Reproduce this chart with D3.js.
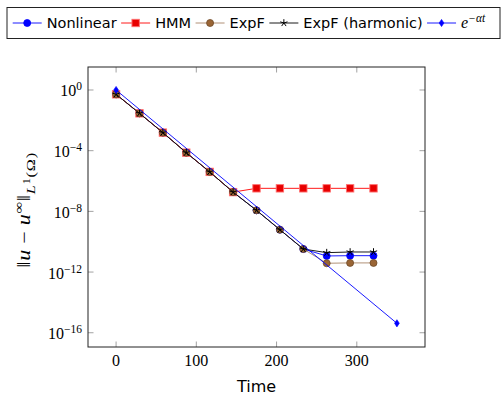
<!DOCTYPE html>
<html>
<head>
<meta charset="utf-8">
<script src="https://cdn.jsdelivr.net/npm/d3@7"></script>
<style>
  body { margin: 0; background: #fff; }
  svg { display: block; }
  .serif { font-family: 'Liberation Serif', 'DejaVu Serif', serif; }
  .sans { font-family: 'DejaVu Sans', sans-serif; }
</style>
</head>
<body>
<svg width="503" height="394"></svg>
<script>
// time samples (i * 350/12) and error norms
const times = [0, 29.17, 58.33, 87.5, 116.67, 145.83, 175, 204.17, 233.33, 262.5, 291.67, 320.83]
const nonlinear = [5.2e-1, 2.9e-2, 1.55e-3, 7.4e-5, 4.0e-6, 1.86e-7, 1.17e-8, 6.2e-10, 3.3e-11, 1.15e-11, 1.2e-11, 1.2e-11]
const hmm = [5.2e-1, 2.9e-2, 1.55e-3, 7.4e-5, 4.0e-6, 1.86e-7, 3.3e-7, 3.3e-7, 3.3e-7, 3.3e-7, 3.3e-7, 3.3e-7]
const expF = [5.2e-1, 2.9e-2, 1.55e-3, 7.4e-5, 4.0e-6, 1.86e-7, 1.17e-8, 6.2e-10, 3.3e-11, 3.8e-12, 4.0e-12, 4.0e-12]
const expFHarmonic = [5.2e-1, 2.9e-2, 1.55e-3, 7.4e-5, 4.0e-6, 1.86e-7, 1.17e-8, 6.2e-10, 3.3e-11, 1.9e-11, 2.1e-11, 2.1e-11]
const expTimes = [0, 350]
const expRef = [1.0, 4.2e-16]

const xTicks = [0, 100, 200, 300]
const yTickExps = [0, -4, -8, -12, -16]

const margin = { top: 67, right: 78, bottom: 47, left: 88 }
const width = 503
const height = 394

const svg = d3.select('svg')

const xScale = d3.scaleLinear()
  .domain([-35, 385])
  .range([margin.left, width - margin.right])

const yScale = d3.scaleLog()
  .domain([Math.pow(10, -16.94), Math.pow(10, 1.516)])
  .range([height - margin.bottom, margin.top])

const x0 = margin.left, x1 = width - margin.right
const y0 = margin.top, y1 = height - margin.bottom
const tickLen = 5.5

// ticks (inside, both sides)
const ticks = svg.append('g').attr('stroke', '#8a8a8a').attr('stroke-width', 0.8)
xTicks.forEach(t => {
  const x = xScale(t)
  ticks.append('line').attr('x1', x).attr('x2', x).attr('y1', y1).attr('y2', y1 - tickLen)
  ticks.append('line').attr('x1', x).attr('x2', x).attr('y1', y0).attr('y2', y0 + tickLen)
})
yTickExps.forEach(e => {
  const y = yScale(Math.pow(10, e))
  ticks.append('line').attr('x1', x0).attr('x2', x0 + tickLen).attr('y1', y).attr('y2', y)
  ticks.append('line').attr('x1', x1).attr('x2', x1 - tickLen).attr('y1', y).attr('y2', y)
})

// tick labels
svg.append('g')
  .attr('class', 'serif')
  .attr('font-size', 16)
  .attr('text-anchor', 'middle')
  .selectAll('text')
  .data(xTicks)
  .join('text')
  .attr('x', d => xScale(d))
  .attr('y', y1 + 18.5)
  .text(d => d)

const yLab = svg.append('g')
  .attr('class', 'serif')
  .attr('font-size', 16)
  .attr('text-anchor', 'end')
yTickExps.forEach(e => {
  const t = yLab.append('text')
    .attr('x', x0 - 6)
    .attr('y', yScale(Math.pow(10, e)) + 6.5)
  t.append('tspan').text('10')
  t.append('tspan').attr('dy', -6).attr('font-size', 11.5)
    .text(e < 0 ? '\u2212' + Math.abs(e) : String(e))
})

// marker shapes
function drawMark(g, type, x, y, s) {
  if (type === 'circle') {
    g.append('circle').attr('cx', x).attr('cy', y).attr('r', 3.5)
      .attr('fill', s.fill).attr('stroke', s.markStroke).attr('stroke-width', 0.8)
  } else if (type === 'square') {
    g.append('rect').attr('x', x - 3.7).attr('y', y - 3.7).attr('width', 7.4).attr('height', 7.4)
      .attr('fill', s.fill).attr('stroke', s.markStroke).attr('stroke-width', 0.9)
  } else if (type === 'star') {
    const r = 3.8
    let p = ''
    for (let k = 0; k < 5; k++) {
      const a = -Math.PI / 2 + k * 2 * Math.PI / 5
      p += `M${x},${y}L${x + r * Math.cos(a)},${y + r * Math.sin(a)}`
    }
    g.append('path').attr('d', p).attr('stroke', s.markStroke).attr('stroke-width', 1).attr('fill', 'none')
  } else if (type === 'diamond') {
    const w = 2.4, h = 3.6
    g.append('path').attr('d', `M${x},${y - h}L${x + w},${y}L${x},${y + h}L${x - w},${y}Z`)
      .attr('fill', s.fill).attr('stroke', s.markStroke).attr('stroke-width', 0.6)
  }
}

const series = [
  { name: 'Nonlinear', xs: times, ys: nonlinear, color: '#0000ff', fill: '#0000ff', markStroke: '#0000ff', mark: 'circle' },
  { name: 'HMM', xs: times, ys: hmm, color: '#ff0000', fill: '#e80000', markStroke: '#ff7070', mark: 'square' },
  { name: 'ExpF', xs: times, ys: expF, color: '#a88466', fill: '#9a6535', markStroke: '#6e4a28', mark: 'circle' },
  { name: 'ExpF (harmonic)', xs: times, ys: expFHarmonic, color: '#000000', fill: '#000000', markStroke: '#000000', mark: 'star' },
  { name: 'exp', xs: expTimes, ys: expRef, color: '#0000ff', fill: '#0000ff', markStroke: '#0000ff', mark: 'diamond' }
]

const line = d3.line().x(d => xScale(d[0])).y(d => yScale(d[1]))

const plot = svg.append('g')
series.forEach(s => {
  const pts = s.xs.map((x, i) => [x, s.ys[i]])
  const g = plot.append('g')
  g.append('path').attr('d', line(pts)).attr('fill', 'none')
    .attr('stroke', s.color).attr('stroke-width', 0.9)
  pts.forEach(p => drawMark(g, s.mark, xScale(p[0]), yScale(p[1]), s))
})

// frame
svg.append('rect')
  .attr('x', x0).attr('y', y0).attr('width', x1 - x0).attr('height', y1 - y0)
  .attr('fill', 'none').attr('stroke', '#222').attr('stroke-width', 1)

// axis labels
svg.append('text')
  .attr('class', 'sans')
  .attr('x', (x0 + x1) / 2).attr('y', 391.5)
  .attr('text-anchor', 'middle')
  .attr('font-size', 16)
  .text('Time')

const ylG = svg.append('g')
const yl = ylG.append('text')
  .attr('class', 'serif')
  .attr('text-anchor', 'middle')
  .attr('font-size', 17)
  .attr('letter-spacing', 0.6)
yl.append('tspan').text('\u2016')
yl.append('tspan').attr('font-style', 'italic').text('u')
yl.append('tspan').text('\u2009\u2212\u2009')
yl.append('tspan').attr('font-style', 'italic').text('u')
yl.append('tspan').attr('dy', -7).attr('font-size', 12.5).text('\u221e')
yl.append('tspan').attr('dy', 7).text('\u2016')
yl.append('tspan').attr('dy', 4.5).attr('font-size', 12.5).attr('font-style', 'italic').text('L')
yl.append('tspan').attr('dy', -4.5).attr('font-size', 9.5).text('1')
yl.append('tspan').attr('dy', 4.5).attr('font-size', 12.5).text('(\u03a9)')
const ylLen = yl.node().getComputedTextLength()
const ylK = Math.min(1.3, 126 / ylLen)
ylG.attr('transform', `translate(30,${(y0 + y1) / 2 + 3}) rotate(-90) scale(${ylK},1.05)`)

// legend
const leg = svg.append('g')
const legY = 23
let lx = 12.7
series.forEach(s => {
  leg.append('line').attr('x1', lx).attr('x2', lx + 29).attr('y1', legY).attr('y2', legY)
    .attr('stroke', s.color).attr('stroke-width', 0.9)
  drawMark(leg, s.mark, lx + 14.5, legY, s)
  const t = leg.append('text').attr('x', lx + 34).attr('y', legY + 5)
    .attr('class', 'sans').attr('font-size', 14.5)
  if (s.name === 'exp') {
    t.append('tspan').attr('class', 'serif').attr('font-style', 'italic')
      .attr('font-size', 16).text('e')
    t.append('tspan').attr('class', 'serif').attr('font-style', 'italic')
      .attr('font-size', 11.5).attr('dy', -6).text('\u2212\u03b1t')
  } else {
    t.text(s.name)
  }
  lx = lx + 34 + t.node().getComputedTextLength() + 4.5
})
leg.insert('rect', ':first-child')
  .attr('x', 7).attr('y', 7.5).attr('width', Math.max(lx - 7 - 1, 493)).attr('height', 31)
  .attr('fill', '#fff').attr('stroke', '#222').attr('stroke-width', 1)
</script>
</body>
</html>
